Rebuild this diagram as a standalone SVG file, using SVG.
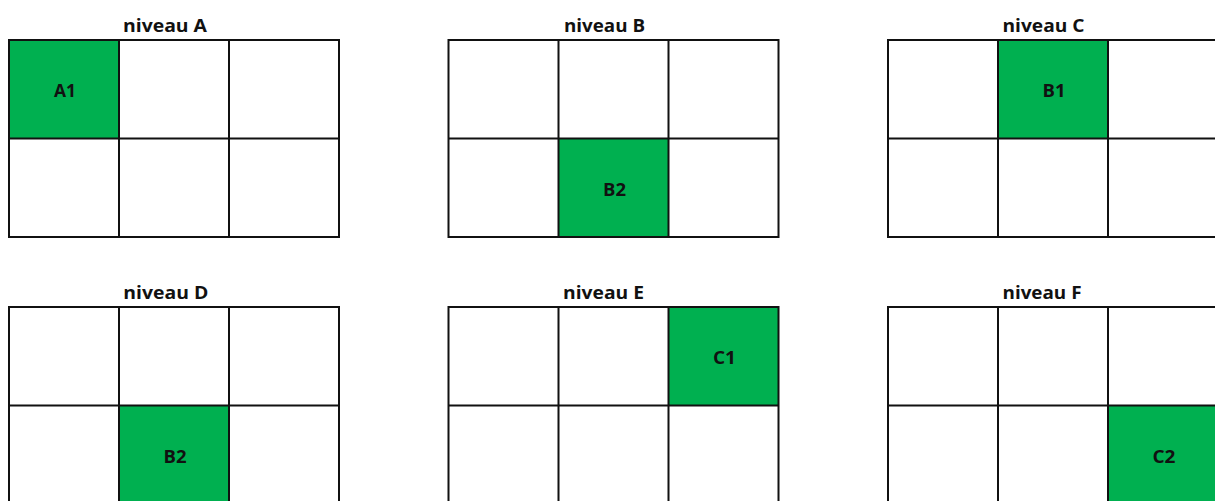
<svg xmlns="http://www.w3.org/2000/svg" width="1215" height="501" viewBox="0 0 1215 501">
<style>
.title{font-family:"Open Sans","Liberation Sans",sans-serif;font-weight:700;font-size:18px;fill:#111;text-anchor:middle}
.lbl{font-family:"Open Sans","Liberation Sans",sans-serif;font-weight:700;font-size:18px;fill:#111;text-anchor:middle}
.cell{fill:#00B050}
.grid{fill:none;stroke:#111;stroke-width:2}
</style>
<rect width="1215" height="501" fill="#fff"/>
<g id="niveauA">
<rect class="cell" x="9" y="40" width="110" height="98.5"/>
<text class="lbl" x="65" y="97" textLength="22" lengthAdjust="spacingAndGlyphs">A1</text>
<rect class="grid" x="9" y="40" width="330" height="197"/>
<path class="grid" d="M119 40V237M229 40V237M9 138.5H339"/>
<text class="title" x="165" y="32" textLength="84" lengthAdjust="spacingAndGlyphs">niveau A</text>
</g>
<g id="niveauB">
<rect class="cell" x="558.5" y="138.5" width="110" height="98.5"/>
<text class="lbl" x="614.5" y="196" textLength="23" lengthAdjust="spacingAndGlyphs">B2</text>
<rect class="grid" x="448.5" y="40" width="330" height="197"/>
<path class="grid" d="M558.5 40V237M668.5 40V237M448.5 138.5H778.5"/>
<text class="title" x="604.5" y="32" textLength="81" lengthAdjust="spacingAndGlyphs">niveau B</text>
</g>
<g id="niveauC">
<rect class="cell" x="998" y="40" width="110" height="98.5"/>
<text class="lbl" x="1054" y="97" textLength="23" lengthAdjust="spacingAndGlyphs">B1</text>
<rect class="grid" x="888" y="40" width="330" height="197"/>
<path class="grid" d="M998 40V237M1108 40V237M888 138.5H1218"/>
<text class="title" x="1043.5" y="32" textLength="82" lengthAdjust="spacingAndGlyphs">niveau C</text>
</g>
<g id="niveauD">
<rect class="cell" x="119" y="405.5" width="110" height="98.5"/>
<text class="lbl" x="175" y="463" textLength="23" lengthAdjust="spacingAndGlyphs">B2</text>
<rect class="grid" x="9" y="307" width="330" height="197"/>
<path class="grid" d="M119 307V504M229 307V504M9 405.5H339"/>
<text class="title" x="165.8" y="299" textLength="85" lengthAdjust="spacingAndGlyphs">niveau D</text>
</g>
<g id="niveauE">
<rect class="cell" x="668.5" y="307" width="110" height="98.5"/>
<text class="lbl" x="724.5" y="364" textLength="23" lengthAdjust="spacingAndGlyphs">C1</text>
<rect class="grid" x="448.5" y="307" width="330" height="197"/>
<path class="grid" d="M558.5 307V504M668.5 307V504M448.5 405.5H778.5"/>
<text class="title" x="603.5" y="299" textLength="81" lengthAdjust="spacingAndGlyphs">niveau E</text>
</g>
<g id="niveauF">
<rect class="cell" x="1108" y="405.5" width="110" height="98.5"/>
<text class="lbl" x="1164" y="463" textLength="23" lengthAdjust="spacingAndGlyphs">C2</text>
<rect class="grid" x="888" y="307" width="330" height="197"/>
<path class="grid" d="M998 307V504M1108 307V504M888 405.5H1218"/>
<text class="title" x="1042" y="299" textLength="79" lengthAdjust="spacingAndGlyphs">niveau F</text>
</g>
<g id="connectors"/>
</svg>
